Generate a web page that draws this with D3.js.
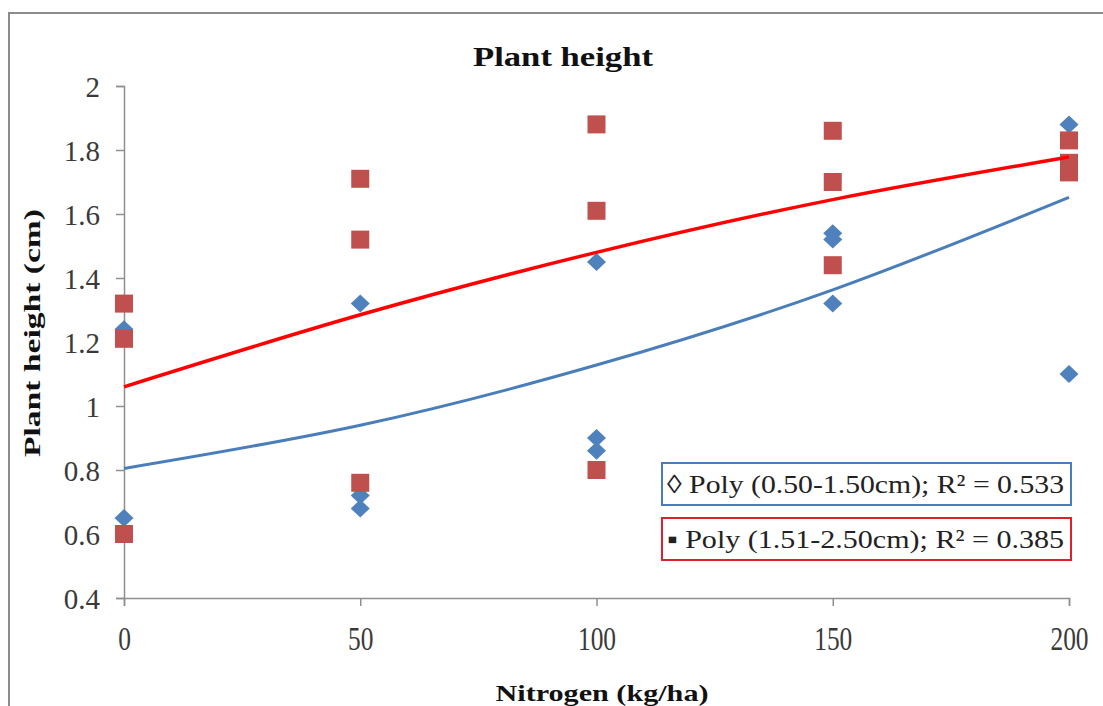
<!DOCTYPE html>
<html>
<head>
<meta charset="utf-8">
<script src="https://cdn.jsdelivr.net/npm/d3@7"></script>
<style>
  html, body { margin: 0; padding: 0; background: #fff; }
  svg { display: block; }
  text { font-family: "Liberation Serif", Tinos, "Times New Roman", serif; }
</style>
</head>
<body>
<svg id="chart" width="1103" height="706"></svg>
<script>
// ---- data ----
const xTicks = [0, 50, 100, 150, 200];
const yTicks = [0.4, 0.6, 0.8, 1, 1.2, 1.4, 1.6, 1.8, 2];

const lowX  = [0, 0, 50, 50, 50, 100, 100, 100, 150, 150, 150, 200, 200];
const lowY  = [1.24, 0.65, 1.32, 0.72, 0.68, 1.45, 0.90, 0.86, 1.54, 1.52, 1.32, 1.88, 1.10];

const highX = [0, 0, 0, 50, 50, 50, 100, 100, 100, 150, 150, 150, 200, 200, 200];
const highY = [1.32, 1.21, 0.60, 1.71, 1.52, 0.76, 1.88, 1.61, 0.80, 1.86, 1.70, 1.44, 1.83, 1.76, 1.73];

// trend lines read at each nitrogen level
const trendX     = [0, 50, 100, 150, 200];
const trendLowY  = [0.805, 0.94, 1.128, 1.363, 1.652];
const trendHighY = [1.06, 1.285, 1.48, 1.645, 1.778];

const title = "Plant height";
const xLabel = "Nitrogen (kg/ha)";
const yLabel = "Plant height (cm)";
const legendLow  = "\u25CA Poly (0.50-1.50cm); R\u00B2 = 0.533";
const legendHigh = "\u25AA Poly (1.51-2.50cm); R\u00B2 = 0.385";

(function () {
// ---- layout ----
const svg = d3.select("#chart");
const pLeft = 124, pRight = 1069, pTop = 86, pBottom = 598;
const x = d3.scaleLinear().domain([0, 200]).range([pLeft, pRight]);
const y = d3.scaleLinear().domain([0.4, 2]).range([pBottom, pTop]);

const axisColor = "#8f8f8f";
const blue = "#4f81bd", red = "#c0504d";

// outer chart border
svg.append("rect").attr("x", 9).attr("y", 13).attr("width", 1200).attr("height", 800)
  .attr("fill", "#fff").attr("stroke", "#8c8c8c").attr("stroke-width", 2);

// title
svg.append("text").attr("x", 563).attr("y", 66).attr("text-anchor", "middle")
  .attr("font-size", 27).attr("font-weight", "bold").attr("fill", "#111")
  .attr("textLength", 180).attr("lengthAdjust", "spacingAndGlyphs").text(title);

// axes
const yAxis = d3.axisLeft(y).tickValues(yTicks).tickSize(8).tickFormat(d => d3.format("")(d));
const gy = svg.append("g").attr("transform", `translate(${pLeft},0)`).call(yAxis);
gy.attr("font-size", 29).attr("font-family", "Liberation Serif");
gy.select(".domain").attr("stroke", axisColor).attr("stroke-width", 1.5);
gy.selectAll(".tick line").attr("stroke", axisColor).attr("stroke-width", 1.5);
gy.selectAll(".tick text").attr("x", -24).style("font-size", "29px")
  .attr("fill", "#3a3a3a").attr("dy", "0.35em");

const xAxis = d3.axisBottom(x).tickValues(xTicks).tickSize(8).tickFormat(d3.format("d"));
const gx = svg.append("g").attr("transform", `translate(0,${pBottom})`).call(xAxis);
gx.attr("font-family", "Liberation Serif");
gx.select(".domain").attr("stroke", axisColor).attr("stroke-width", 1.5);
gx.selectAll(".tick line").attr("stroke", axisColor).attr("stroke-width", 1.5);
gx.selectAll(".tick text").attr("y", 52).attr("dy", 0).style("font-size", "33px")
  .attr("fill", "#3a3a3a")
  .attr("textLength", d => String(d).length * 12.7).attr("lengthAdjust", "spacingAndGlyphs");

// axis labels
svg.append("text").attr("x", 602).attr("y", 701).attr("text-anchor", "middle")
  .attr("font-size", 24).attr("font-weight", "bold").attr("fill", "#111")
  .attr("textLength", 213).attr("lengthAdjust", "spacingAndGlyphs").text(xLabel);
svg.append("text").attr("transform", "translate(40,333) rotate(-90)").attr("text-anchor", "middle")
  .attr("font-size", 24).attr("font-weight", "bold").attr("fill", "#111")
  .attr("textLength", 248).attr("lengthAdjust", "spacingAndGlyphs").text(yLabel);

// points
const lowPts = lowX.map((v, i) => [v, lowY[i]]);
const highPts = highX.map((v, i) => [v, highY[i]]);

svg.append("g").selectAll("path").data(lowPts).join("path")
  .attr("transform", d => `translate(${x(d[0])},${y(d[1])})`)
  .attr("d", "M0,-9 L9.5,0 L0,9 L-9.5,0 Z").attr("fill", blue);

svg.append("g").selectAll("rect").data(highPts).join("rect")
  .attr("x", d => x(d[0]) - 9).attr("y", d => y(d[1]) - 9)
  .attr("width", 18).attr("height", 18).attr("fill", red);

// trend lines
const line = d3.line().x(d => x(d[0])).y(d => y(d[1])).curve(d3.curveNatural);
svg.append("path").datum(trendX.map((v, i) => [v, trendLowY[i]]))
  .attr("d", line).attr("fill", "none").attr("stroke", "#4a7ebb").attr("stroke-width", 3);
svg.append("path").datum(trendX.map((v, i) => [v, trendHighY[i]]))
  .attr("d", line).attr("fill", "none").attr("stroke", "#ff0000").attr("stroke-width", 3.5);

// legend boxes
const legends = [
  { text: legendLow, stroke: "#4a7ebb", y: 463 },
  { text: legendHigh, stroke: "#e0202a", y: 518 }
];
const lg = svg.append("g").selectAll("g").data(legends).join("g");
lg.append("rect").attr("x", 662).attr("y", d => d.y).attr("width", 409).attr("height", 42)
  .attr("fill", "#fff").attr("stroke", d => d.stroke).attr("stroke-width", 2);
lg.append("text").attr("x", 667).attr("y", d => d.y + 30)
  .attr("font-size", 26).attr("fill", "#222")
  .attr("textLength", 397).attr("lengthAdjust", "spacingAndGlyphs").text(d => d.text);
})();
</script>
</body>
</html>
